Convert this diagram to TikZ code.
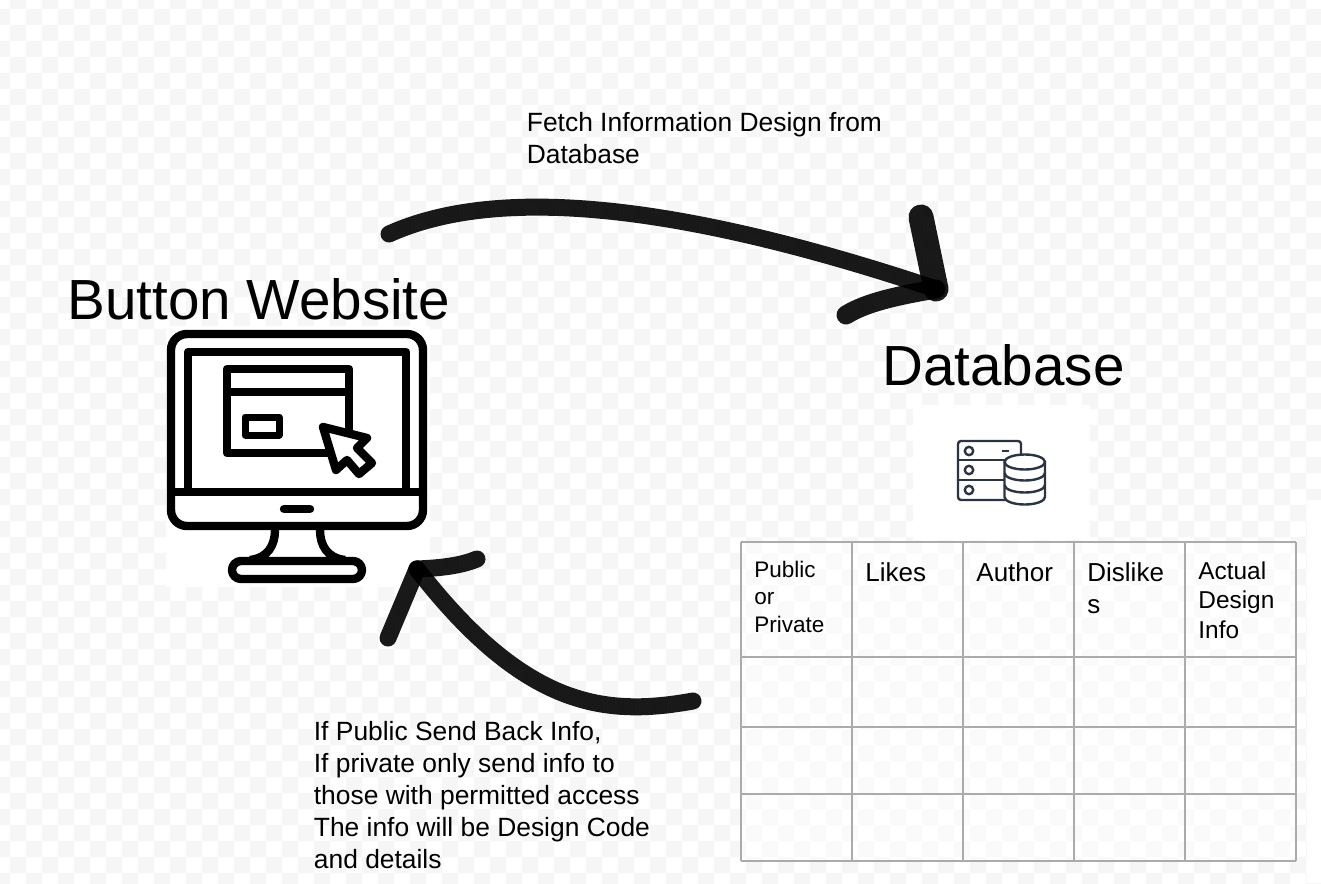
\documentclass[tikz,border=0pt]{standalone}
\usepackage{fontspec}
\setmainfont{Liberation Sans}
\definecolor{checkgray}{HTML}{F6F6F6}
\definecolor{gridgray}{HTML}{ABABAB}
\definecolor{dbnavy}{HTML}{2B3440}
\tikzset{
  checkcell/.style={fill=checkgray},
  iconline/.style={draw=black, line width=4.2pt, line join=round},
  dbline/.style={draw=dbnavy, line width=1.2pt, line join=round},
  sketchline/.style={draw=black, draw opacity=0.9, line width=8.5pt, line cap=round},
  gridline/.style={draw=gridgray, line width=0.8pt},
  bigtitle/.style={anchor=base west, inner sep=0pt, font=\fontsize{28.3}{32}\selectfont},
  notetext/.style={anchor=north west, inner sep=0pt, align=left, font=\fontsize{13.2}{16}\selectfont},
  headtext/.style={anchor=north west, inner sep=0pt, align=left, font=\fontsize{13}{16}\selectfont},
}
\begin{document}
\begin{tikzpicture}[x=0.5pt,y=-0.5pt]
  \useasboundingbox (0,0) rectangle (1321,883);
  \fill[white] (0,0) rectangle (1321,883);
  % background checks
  \begin{scope}
    \clip (0,0) rectangle (1321,883);
    \fill[checkcell] \foreach \x in {10,42,...,1322} { \foreach \y in {-7,25,...,890} { (\x,\y) rectangle +(16,16) } };
    \fill[checkcell] \foreach \x in {-6,26,...,1322} { \foreach \y in {9,41,...,890} { (\x,\y) rectangle +(16,16) } };
  \end{scope}
  \fill[white] (1307,500) rectangle (1321,883);

  % monitor
  \fill[white] (166,326) rectangle (430,587);
  \draw[iconline, rounded corners=8pt] (171,334) rectangle (423,526);
  \draw[iconline] (188,492) -- (188,352) -- (406,352) -- (406,492);
  \draw[iconline] (171,492) -- (423,492);
  \draw[iconline, line cap=round] (284,509) -- (310,509);
  \draw[iconline] (227,369) rectangle (349,453);
  \draw[iconline] (227,392) -- (349,392);
  \draw[iconline, line width=3.5pt] (245,417) rectangle (279,435);
  \filldraw[iconline, fill=white] (323,427) -- (367,438) -- (357,448) -- (372,463) -- (359,474) -- (347,460) -- (336,470) -- cycle;
  \draw[iconline] (275,530) .. controls (275,545) and (268,558) .. (250,560);
  \draw[iconline] (320,530) .. controls (320,545) and (327,558) .. (345,560);
  \draw[iconline, rounded corners=4.5pt] (232,561) rectangle (362,579);

  % database icon
  \fill[white] (913,405) rectangle (1090,540);
  \draw[dbline, rounded corners=1.5pt] (958,441) rectangle (1021,500);
  \foreach \y in {460,480} {
    \draw[dbline] (958,\y) -- (1021,\y);
  }
  \foreach \y in {451,470,490} {
    \draw[dbline] (969,\y) circle (4.2);
  }
  \draw[dbline] (1002,451) -- (1009,451);
  \filldraw[dbline, fill=white] (1004.5,462) -- (1004.5,497) arc[start angle=180, end angle=0, x radius=20.25, y radius=7.5] -- (1045,462) -- cycle;
  \filldraw[dbline, fill=white] (1024.75,462) ellipse (20.25 and 7.5);
  \foreach \y in {473,485} {
    \draw[dbline] (1004.5,\y) arc[start angle=180, end angle=0, x radius=20.25, y radius=7.5];
  }

  % table
  \fill[white, opacity=0.5] (741,542) rectangle (1296,861);
  \foreach \x in {741,852,963,1074,1185,1296} {
    \draw[gridline] (\x,542) -- (\x,861);
  }
  \foreach \y in {542,657,727,794,861} {
    \draw[gridline] (741,\y) -- (1296,\y);
  }

  % labels
  \node[bigtitle] (websitelabel) at (67,319) {Button Website};
  \node[bigtitle] (databaselabel) at (882,385) {Database};
  \node[notetext] (fetchlabel) at (526.5,111.5) {Fetch Information Design from\\Database};
  \node[notetext] (replylabel) at (313.5,720.5) {If Public Send Back Info,\\If private only send info to\\those with permitted access\\The info will be Design Code\\and details};
  \node[headtext, font=\fontsize{11.25}{13.75}\selectfont] (publichead) at (754,560.5) {Public\\or\\Private};
  \node[headtext] (likeshead) at (865,562.5) {Likes};
  \node[headtext] (authorhead) at (976,562.5) {Author};
  \node[headtext] (dislikeshead) at (1087,562.5) {Dislike\\s};
  \node[headtext, font=\fontsize{12.2}{14.75}\selectfont] (actualhead) at (1198,561) {Actual\\Design\\Info};

  % sketched arrows
  \coordinate (fetchstart) at (389,234);
  \coordinate (fetchend) at (936,289);
  \coordinate (fetchwingone) at (921,217);
  \coordinate (fetchwingtwo) at (846,315);
  \coordinate (replystart) at (693,701);
  \coordinate (replyend) at (417,569);
  \coordinate (replywingone) at (388,638);
  \coordinate (replywingtwo) at (477,559);
  \draw[sketchline] (fetchstart) .. controls (480,193) and (640,190) .. (fetchend);
  \draw[sketchline, line width=12.5pt] (fetchwingone) -- (fetchend);
  \draw[sketchline, line width=9.5pt] (fetchwingtwo) .. controls (865,303) and (895,296) .. (fetchend);
  \draw[sketchline] (replystart) .. controls (605,717) and (525,708) .. (replyend);
  \draw[sketchline] (replywingone) -- (replyend);
  \draw[sketchline] (replywingtwo) .. controls (460,566) and (440,568) .. (replyend);
\end{tikzpicture}
\end{document}
